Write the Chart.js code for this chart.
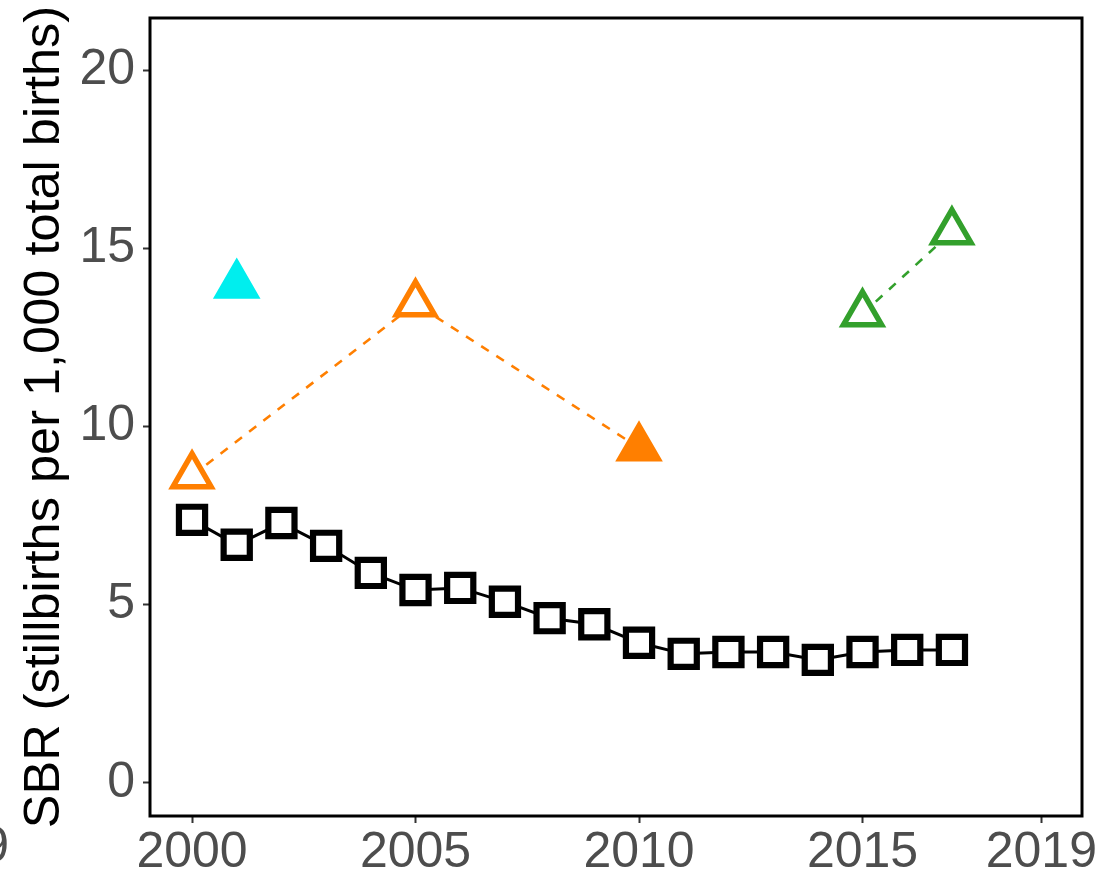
<!DOCTYPE html>
<html>
<head>
<meta charset="utf-8">
<script src="https://cdn.jsdelivr.net/npm/chart.js@4"></script>
<style>
  body { margin: 0; background: #fff; }
  #wrap { width: 1097px; height: 876px; }
</style>
</head>
<body>
<div id="wrap"><canvas id="myChart" width="1097" height="876"></canvas></div>
<script>
const years = [2000, 2001, 2002, 2003, 2004, 2005, 2006, 2007, 2008, 2009, 2010, 2011, 2012, 2013, 2014, 2015, 2016, 2017];
const sbrBlack = [7.38, 6.68, 7.29, 6.65, 5.89, 5.41, 5.47, 5.08, 4.62, 4.45, 3.93, 3.62, 3.67, 3.67, 3.45, 3.67, 3.73, 3.73];
const orangeYears = [2000, 2005, 2010];
const sbrOrange = [8.62, 13.44, 9.40];
const orangeFilled = [false, false, true];
const cyanYears = [2001];
const sbrCyan = [13.97];
const greenYears = [2015, 2017];
const sbrGreen = [13.16, 15.46];
const xTicks = [2000, 2005, 2010, 2015, 2019];
const yTicks = [0, 5, 10, 15, 20];

const fontFamily = '"Liberation Sans", Arial, sans-serif';
const orange = '#FF7F00';
const cyan = '#00EEEE';
const green = '#33A02C';

const toPoints = (xs, ys) => xs.map((x, i) => ({x: x, y: ys[i]}));

// black frame round the panel, plus the clipped label of the panel to the left
const framePlugin = {
    id: 'frame',
    beforeDatasetsDraw(chart) {
        const a = chart.chartArea;
        const ctx = chart.ctx;
        ctx.save();
        ctx.strokeStyle = '#000';
        ctx.lineWidth = 3;
        ctx.strokeRect(a.left, a.top, a.right - a.left, a.bottom - a.top);
        ctx.restore();
    },
    afterDraw(chart) {
        const ctx = chart.ctx;
        ctx.save();
        ctx.fillStyle = '#4D4D4D';
        ctx.font = '50px ' + fontFamily;
        ctx.textAlign = 'right';
        ctx.textBaseline = 'top';
        ctx.fillText('2019', 9, chart.chartArea.bottom + 7);
        ctx.restore();
    }
};

const ctx = document.getElementById('myChart').getContext('2d');

new Chart(ctx, {
    type: 'line',
    data: {
        datasets: [
            {
                label: 'black',
                data: toPoints(years, sbrBlack),
                borderColor: '#000',
                borderWidth: 3,
                pointStyle: 'rect',
                pointRadius: 18.5,
                pointBorderWidth: 6.2,
                pointBorderColor: '#000',
                pointBackgroundColor: '#fff',
                fill: false
            },
            {
                label: 'orange',
                data: toPoints(orangeYears, sbrOrange),
                borderColor: orange,
                borderWidth: 2.6,
                borderDash: [9, 9],
                pointStyle: 'triangle',
                pointRadius: 22,
                pointBorderWidth: 5.5,
                pointBorderColor: orange,
                pointBackgroundColor: orangeFilled.map(f => f ? orange : '#fff'),
                fill: false
            },
            {
                label: 'cyan',
                data: toPoints(cyanYears, sbrCyan),
                showLine: false,
                pointStyle: 'triangle',
                pointRadius: 22,
                pointBorderWidth: 5.5,
                pointBorderColor: cyan,
                pointBackgroundColor: cyan
            },
            {
                label: 'green',
                data: toPoints(greenYears, sbrGreen),
                borderColor: green,
                borderWidth: 2.6,
                borderDash: [9, 9],
                pointStyle: 'triangle',
                pointRadius: 22,
                pointBorderWidth: 5.5,
                pointBorderColor: green,
                pointBackgroundColor: '#fff',
                fill: false
            }
        ]
    },
    options: {
        responsive: false,
        maintainAspectRatio: false,
        animation: false,
        layout: {
            autoPadding: false,
            padding: {top: 18, right: 15, left: 0, bottom: 0}
        },
        scales: {
            x: {
                type: 'linear',
                min: 1999.06,
                max: 2019.91,
                afterBuildTicks: (scale) => { scale.ticks = xTicks.map(v => ({value: v})); },
                afterFit: (scale) => {
                    scale.height = 60;
                    scale.paddingLeft = 0;
                    scale.paddingRight = 0;
                },
                border: {display: false},
                grid: {
                    drawOnChartArea: false,
                    drawTicks: true,
                    tickLength: 7,
                    tickColor: '#333',
                    tickWidth: 2
                },
                ticks: {
                    autoSkip: false,
                    maxRotation: 0,
                    padding: 0,
                    color: '#4D4D4D',
                    font: {family: fontFamily, size: 50},
                    callback: (v) => String(v)
                }
            },
            y: {
                min: -0.93,
                max: 21.46,
                afterBuildTicks: (scale) => { scale.ticks = yTicks.map(v => ({value: v})); },
                afterFit: (scale) => {
                    scale.width = 150;
                    scale.paddingTop = 0;
                    scale.paddingBottom = 0;
                },
                border: {display: false},
                grid: {
                    drawOnChartArea: false,
                    drawTicks: true,
                    tickLength: 7,
                    tickColor: '#333',
                    tickWidth: 2
                },
                ticks: {
                    padding: 8,
                    color: '#4D4D4D',
                    font: {family: fontFamily, size: 50},
                    callback: (v) => String(v)
                },
                title: {
                    display: true,
                    text: 'SBR (stillbirths per 1,000 total births)',
                    color: '#000',
                    font: {family: fontFamily, size: 50.5},
                    padding: {top: 15, bottom: 0}
                }
            }
        },
        plugins: {
            legend: {display: false},
            tooltip: {enabled: false}
        }
    },
    plugins: [framePlugin]
});
</script>
</body>
</html>
